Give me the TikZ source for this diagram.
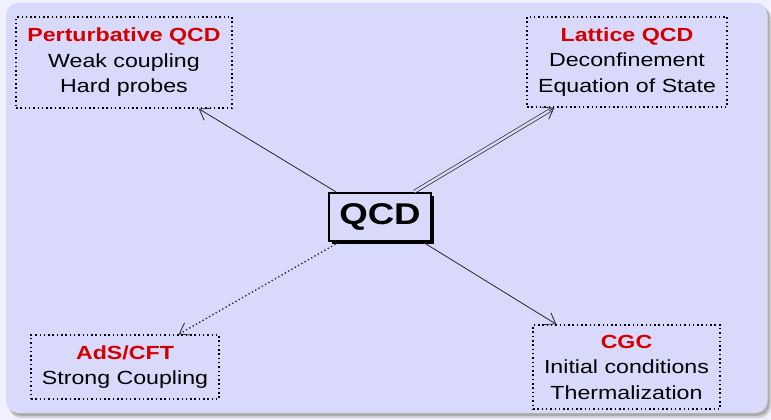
\documentclass[tikz,border=0pt]{standalone}
\usepackage{fontspec}
\newfontfamily\lab[FakeStretch=1.22]{Liberation Sans}
\usetikzlibrary{arrows.meta,shadows,calc}
\definecolor{bgout}{RGB}{240,240,255}
\definecolor{bgin}{RGB}{217,217,251}
\definecolor{titred}{RGB}{212,0,0}
\tikzset{
  infobox/.style={draw=black, line width=1.4pt, dash pattern=on 1.5pt off 2.8pt,
    align=center, inner sep=0pt, font=\lab\fontsize{19}{25.5}\selectfont},
  conn/.style={line width=0.8pt, draw=black!85,
    -{Straight Barb[length=10pt,width=14pt,line width=0.8pt]}}
}
\newcommand{\ttl}[1]{\textcolor{titred}{\bfseries #1}}
\begin{document}
\begin{tikzpicture}[x=1pt,y=-1pt]
\useasboundingbox (0,0) rectangle (771,420);
\fill[bgout] (0,0) rectangle (771,420);
\fill[gray!35, rounded corners=12pt] (9,6) rectangle (771,418);
\fill[gray!65, rounded corners=12pt] (8.5,5.5) rectangle (769.5,416);
\fill[bgin, rounded corners=12pt] (6,3) rectangle (767.5,413);

\node[infobox, minimum width=216pt, minimum height=91pt] (pqcd) at (124,62.5)
  {\ttl{Perturbative QCD}\\Weak coupling\\Hard probes};
\node[infobox, minimum width=200pt, minimum height=90pt] (lqcd) at (627,62)
  {\ttl{Lattice QCD}\\Deconfinement\\Equation of State};
\node[infobox, minimum width=188pt, minimum height=64pt] (ads) at (125,367)
  {\ttl{AdS/CFT}\\Strong Coupling};
\node[infobox, minimum width=187pt, minimum height=84pt] (cgc) at (626.5,367)
  {\ttl{CGC}\\Initial conditions\\Thermalization};

\node[draw=black, line width=2.6pt, fill=bgin, inner sep=0pt,
  minimum width=102pt, minimum height=48pt,
  drop shadow={shadow xshift=2.5pt, shadow yshift=-2.5pt, fill=black, opacity=1},
  font=\lab\fontsize{30}{36}\selectfont\bfseries] (qcd) at (380,217) {QCD};

\coordinate (ls) at ([xshift=-18pt]qcd.north east);
\coordinate (le) at ([xshift=28pt]lqcd.south west);

\draw[conn] ([xshift=8pt]qcd.north west) -- ([xshift=-34pt]pqcd.south east);
\draw[line width=0.7pt, draw=black!85, double=bgin, double distance=2.4pt,
  shorten >=3pt] (ls) -- (le);
\draw[conn] ($(le)!6pt!(ls)$) -- (le);
\draw[conn, line width=1.3pt, dash pattern=on 1.4pt off 2.4pt]
  ([xshift=11pt]qcd.south west) -- ([xshift=-41pt]ads.north east);
\draw[conn] ([xshift=-9pt]qcd.south east) -- ([xshift=24pt]cgc.north west);
\end{tikzpicture}
\end{document}
